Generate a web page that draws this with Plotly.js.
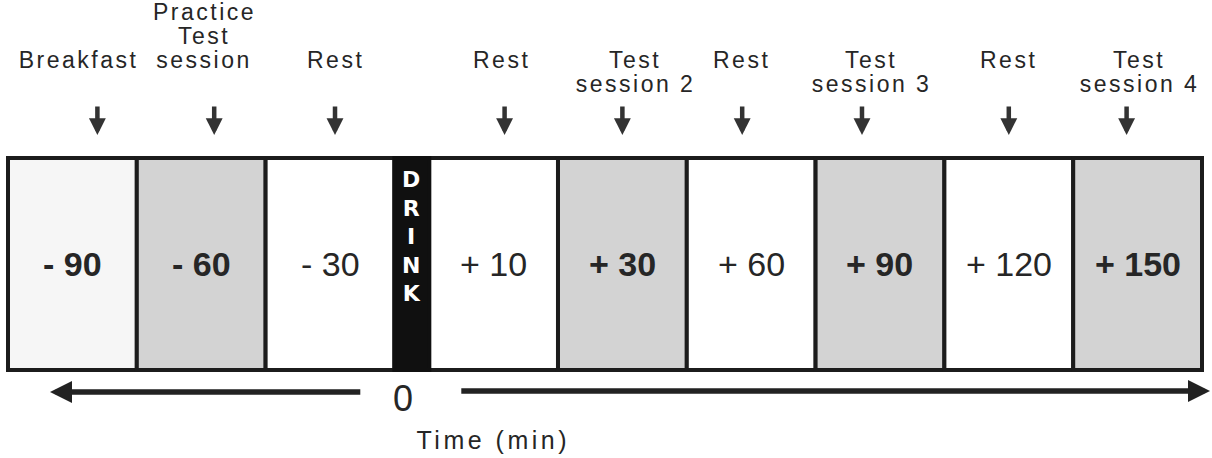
<!DOCTYPE html>
<html>
<head>
<meta charset="utf-8">
<script src="https://cdn.plot.ly/plotly-3.0.1.min.js"></script>
<style>
  html, body { margin: 0; padding: 0; background: #ffffff; }
  #chart { width: 1212px; height: 458px; }
</style>
</head>
<body>
<div id="chart"></div>
<script>
// ---------------- data ----------------
const phaseLabels = ['Breakfast', 'Practice<br>Test<br>session', 'Rest', 'Rest',
  'Test<br>session 2', 'Rest', 'Test<br>session 3', 'Rest', 'Test<br>session 4'];
const timeLabels = ['- 90', '- 60', '- 30', '+ 10', '+ 30', '+ 60', '+ 90', '+ 120', '+ 150'];
const blockShade = ['light', 'grey', 'white', 'white', 'grey', 'white', 'grey', 'white', 'grey'];
const drinkLabel = 'D<br>R<br>I<br>N<br>K';
const drinkAfterBlock = 3;
const zeroLabel = '0';
const axisTitle = 'Time (min)';

// ---------------- layout helpers ----------------
const W = 1212, H = 458;
const FONT = 'Liberation Sans, Arial, sans-serif';
const TXT = '#262626';
const EDGE = '#1c1c1c';
const shadeColor = { light: '#f6f6f6', grey: '#d3d3d3', white: '#ffffff' };
const DRINK_W = 0.27;           // drink band width relative to a block
const LEFT_PX = 8, RIGHT_PX = 1202;

// label / arrow fine offsets in pixels (layout tweaks)
const arrowShiftPx = [25, 13, 5, 11, 0, -9, -18, 0, -11];
const labelShiftPx = [7, 3, 6, 8, 13, -9, -8, 0, 2];
const labelFirstRow = [0, -2, 0, 0, 0, 0, 0, 0, 0];

let pos = 0, drinkCenter = 0;
const centers = [], widths = [];
timeLabels.forEach((t, i) => {
  if (i === drinkAfterBlock) { drinkCenter = pos + DRINK_W / 2; pos += DRINK_W; }
  centers.push(pos + 0.5); widths.push(1); pos += 1;
});
const total = pos;
const unit = (RIGHT_PX - LEFT_PX) / total;
const xRange = [-LEFT_PX / unit, (W - LEFT_PX) / unit];
const pxToX = px => (px - LEFT_PX) / unit;
const BOX_TOP = 158, BOX_BOT = 370;
const yUnit = BOX_BOT - BOX_TOP;
const yRange = [-(H - BOX_BOT) / yUnit, BOX_BOT / yUnit];
const py = px => 1 - px / H;      // paper y from pixel y

const traces = [
  {
    type: 'bar', x: centers, y: timeLabels.map(() => 1), base: 0, width: widths,
    marker: { color: blockShade.map(s => shadeColor[s]), line: { color: EDGE, width: 4 } },
    hoverinfo: 'skip', showlegend: false
  },
  {
    type: 'bar', x: [drinkCenter], y: [1], base: 0, width: [DRINK_W],
    marker: { color: '#101010', line: { color: '#101010', width: 4 } },
    hoverinfo: 'skip', showlegend: false
  }
];

const annotations = [];
const spaced = {};   // annotation index -> letter spacing

// numbers in blocks
timeLabels.forEach((t, i) => {
  annotations.push({
    x: centers[i], y: 0.5, xref: 'x', yref: 'y', text: t, showarrow: false,
    xanchor: 'center', yanchor: 'middle',
    font: { family: FONT, size: 34, color: TXT, weight: blockShade[i] === 'white' ? 400 : 700 }
  });
});

// DRINK band text
annotations.push({
  x: drinkCenter, y: py(236), xref: 'x', yref: 'paper', text: drinkLabel, showarrow: false,
  xanchor: 'center', yanchor: 'middle',
  font: { family: 'DejaVu Sans, sans-serif', size: 22, color: '#ffffff', weight: 700 }
});

// phase labels (each line separately) + down arrows
const ROW0 = 60, ROW_PX = 24;
phaseLabels.forEach((lab, i) => {
  const lines = lab.split('<br>');
  lines.forEach((ln, k) => {
    spaced[annotations.length] = '2.5px';
    annotations.push({
      x: centers[i], xshift: labelShiftPx[i], y: py(ROW0 + (labelFirstRow[i] + k) * ROW_PX),
      xref: 'x', yref: 'paper', text: ln, showarrow: false,
      xanchor: 'center', yanchor: 'middle',
      font: { family: FONT, size: 23, color: TXT }
    });
  });
  annotations.push({
    x: centers[i], xshift: arrowShiftPx[i], y: py(135), xref: 'x', yref: 'paper',
    text: '', showarrow: true, ax: 0, ay: -30, axref: 'pixel', ayref: 'pixel',
    arrowhead: 2, arrowsize: 0.75, arrowwidth: 4.5, arrowcolor: '#333333', standoff: 0
  });
});

// time arrows
annotations.push({
  x: pxToX(50), y: py(392), xref: 'x', yref: 'paper',
  ax: drinkCenter - 50 / unit, ay: 0, axref: 'x', ayref: 'pixel',
  text: '', showarrow: true, arrowhead: 2, arrowsize: 0.8, arrowwidth: 5.5, arrowcolor: '#222222', standoff: 0
});
annotations.push({
  x: pxToX(1210), y: py(391), xref: 'x', yref: 'paper',
  ax: drinkCenter + 48 / unit, ay: 0, axref: 'x', ayref: 'pixel',
  text: '', showarrow: true, arrowhead: 2, arrowsize: 0.8, arrowwidth: 5.5, arrowcolor: '#222222', standoff: 0
});

// zero and axis title
annotations.push({
  x: drinkCenter, xshift: -9, y: py(398), xref: 'x', yref: 'paper', text: zeroLabel, showarrow: false,
  xanchor: 'center', yanchor: 'middle', font: { family: FONT, size: 36, color: TXT }
});
spaced[annotations.length] = '3.5px';
annotations.push({
  x: drinkCenter, xshift: 82, y: py(440), xref: 'x', yref: 'paper', text: axisTitle, showarrow: false,
  xanchor: 'center', yanchor: 'middle', font: { family: FONT, size: 25, color: TXT }
});

const layout = {
  width: W, height: H,
  margin: { l: 0, r: 0, t: 0, b: 0, pad: 0 },
  paper_bgcolor: '#ffffff', plot_bgcolor: '#ffffff',
  barmode: 'overlay', showlegend: false,
  xaxis: { range: xRange, visible: false, fixedrange: true },
  yaxis: { range: yRange, visible: false, fixedrange: true },
  annotations: annotations
};

Plotly.newPlot('chart', traces, layout, { staticPlot: true, displayModeBar: false }).then(gd => {
  Object.keys(spaced).forEach(idx => {
    const t = gd.querySelector('g.annotation[data-index="' + idx + '"] text.annotation-text');
    if (t) t.style.letterSpacing = spaced[idx];
  });
});
</script>
</body>
</html>
